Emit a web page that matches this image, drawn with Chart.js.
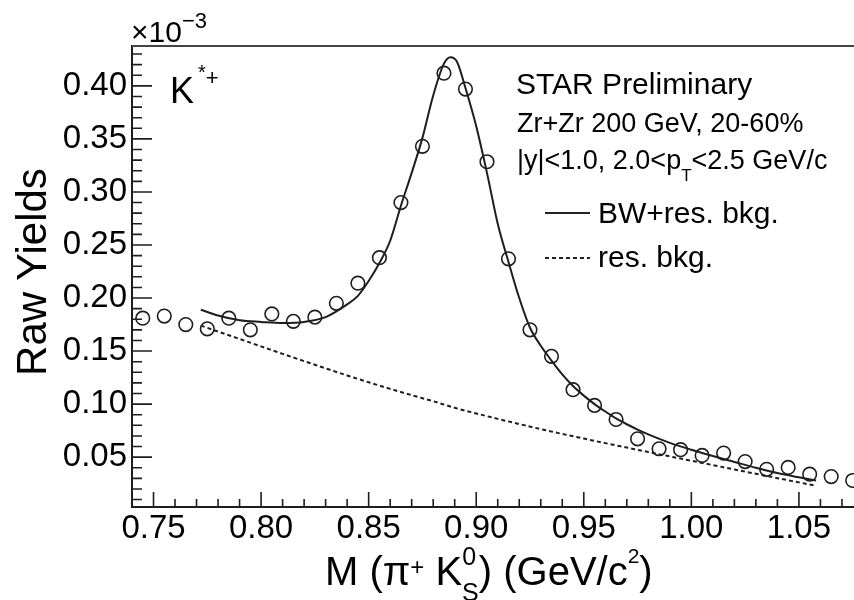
<!DOCTYPE html>
<html><head><meta charset="utf-8">
<script src="https://cdn.jsdelivr.net/npm/chart.js@4.4.1/dist/chart.umd.min.js"></script>
<style>
html,body{margin:0;padding:0;background:#fff;overflow:hidden}
#wrap{position:relative;width:854px;height:600px;font-family:"Liberation Sans",Arial,Helvetica,sans-serif;color:#000}
canvas{position:absolute;left:0;top:0}
.t{position:absolute;white-space:nowrap;line-height:1}
.r{position:relative}
</style></head><body>
<div id="wrap">
<canvas id="c" width="854" height="600"></canvas>
<div class="t" style="left:131px;top:16.6px;font-size:30px">×10<span class="r" style="font-size:22px;top:-13.7px">−3</span></div>
<div class="t" style="left:170px;top:72.5px;font-size:36px">K<span class="r" style="font-size:20px;top:-24px;margin-left:4px">*</span><span class="r" style="font-size:22px;top:-17.5px">+</span></div>
<div class="t" style="left:516px;top:69px;font-size:30px">STAR Preliminary</div>
<div class="t" style="left:517px;top:110px;font-size:27px">Zr+Zr 200 GeV, 20-60%</div>
<div class="t" style="left:517px;top:147px;font-size:27px">|y|&lt;1.0, 2.0&lt;p<span class="r" style="font-size:17px;top:12px">T</span>&lt;2.5 GeV/c</div>
<svg style="position:absolute;left:0;top:0" width="854" height="600">
<line x1="545" y1="213" x2="590" y2="213" stroke="#222" stroke-width="2"/>
<line x1="545" y1="258" x2="590" y2="258" stroke="#222" stroke-width="2" stroke-dasharray="4,3"/>
</svg>
<div class="t" style="left:598px;top:197.5px;font-size:30px">BW+res. bkg.</div>
<div class="t" style="left:598px;top:241.5px;font-size:30px">res. bkg.</div>
<div class="t" style="left:325px;top:551px;font-size:40px">M (π<span class="r" style="font-size:24px;top:-10px">+</span> K<span class="r" style="font-size:25px;top:-20px">0</span><span class="r" style="font-size:25px;top:16px;margin-left:-14px">S</span>) (GeV/c<span class="r" style="font-size:21px;top:-22px">2</span>)</div>
<div class="t" style="left:-117.6px;top:251px;width:300px;height:42px;text-align:center;font-size:42px;transform:rotate(-90deg)">Raw Yields</div>
</div>
<script>
// ---- data ----
const massBins = [0.745,0.755,0.765,0.775,0.785,0.795,0.805,0.815,0.825,0.835,0.845,0.855,0.865,0.875,0.885,0.895,0.905,0.915,0.925,0.935,0.945,0.955,0.965,0.975,0.985,0.995,1.005,1.015,1.025,1.035,1.045,1.055,1.065,1.075];
const rawYields = [0.181,0.183,0.175,0.171,0.181,0.170,0.185,0.178,0.182,0.195,0.214,0.238,0.290,0.343,0.412,0.397,0.3285,0.237,0.170,0.145,0.1136,0.0988,0.0855,0.0673,0.0579,0.057,0.0516,0.0538,0.0458,0.0385,0.0403,0.0339,0.0317,0.028];
const fitMass = [0.772,0.78,0.79,0.80,0.81,0.82,0.83,0.84,0.845,0.85,0.855,0.86,0.865,0.87,0.875,0.88,0.885,0.888,0.891,0.895,0.90,0.905,0.91,0.915,0.92,0.925,0.93,0.935,0.94,0.945,0.95,0.955,0.96,0.965,0.97,0.975,0.98,0.99,1.00,1.01,1.02,1.03,1.04,1.05,1.058];
const fitYield = [0.189,0.1835,0.179,0.1775,0.1765,0.1775,0.182,0.194,0.202,0.216,0.233,0.254,0.287,0.318,0.351,0.391,0.421,0.427,0.423,0.398,0.362,0.318,0.270,0.234,0.200,0.172,0.155,0.141,0.128,0.117,0.108,0.100,0.093,0.0865,0.081,0.076,0.0715,0.0635,0.057,0.051,0.0455,0.040,0.035,0.031,0.028];
const bkgMass = [0.772,0.78,0.79,0.80,0.81,0.82,0.83,0.84,0.85,0.86,0.87,0.88,0.89,0.90,0.91,0.92,0.93,0.94,0.95,0.96,0.97,0.98,0.99,1.00,1.01,1.02,1.03,1.04,1.05,1.058];
const bkgYield = [0.174,0.1684,0.1614,0.1544,0.1474,0.1405,0.1337,0.1270,0.1206,0.1144,0.1084,0.1027,0.0965,0.0912,0.0861,0.0812,0.0764,0.0719,0.0675,0.0632,0.0590,0.0548,0.0507,0.0466,0.0425,0.0384,0.0343,0.0302,0.0262,0.0230];
const xTickValues = [0.75,0.80,0.85,0.90,0.95,1.00,1.05];
const xTickLabels = ["0.75","0.80","0.85","0.90","0.95","1.00","1.05"];
const yTickValues = [0.05,0.10,0.15,0.20,0.25,0.30,0.35,0.40];
const yTickLabels = ["0.05","0.10","0.15","0.20","0.25","0.30","0.35","0.40"];
const xRange = [0.74, 1.0756];
const yRange = [0.003, 0.4376];

const pts = (xs, ys) => xs.map((v, i) => ({x: v, y: ys[i]}));
const FONT = '"Liberation Sans", Arial, Helvetica, sans-serif';
const INK = '#1e1e1e';

const innerTicks = {
  id: 'innerTicks',
  afterDraw(chart) {
    const {ctx, chartArea: a, scales: {x, y}} = chart;
    ctx.save();
    ctx.strokeStyle = INK;
    ctx.lineWidth = 1.6;
    ctx.beginPath();
    for (let k = 74; k <= 107; k++) {
      const p = x.getPixelForValue(k / 100);
      const L = (k % 5 === 0) ? 15 : 8;
      ctx.moveTo(p, a.bottom); ctx.lineTo(p, a.bottom - L);
    }
    for (let k = 1; k <= 43; k++) {
      const p = y.getPixelForValue(k / 100);
      const L = (k % 5 === 0) ? 20 : 10;
      ctx.moveTo(a.left, p); ctx.lineTo(a.left + L, p);
    }
    ctx.stroke();
    ctx.strokeStyle = '#444';
    ctx.lineWidth = 2;
    ctx.beginPath();
    ctx.moveTo(a.left, a.top); ctx.lineTo(chart.width, a.top);
    ctx.stroke();
    ctx.restore();
  }
};

new Chart(document.getElementById('c'), {
  type: 'scatter',
  data: {
    datasets: [
      {label: 'res. bkg.', data: pts(bkgMass, bkgYield), showLine: true, borderColor: INK, borderWidth: 2, borderDash: [4, 3], pointRadius: 0, cubicInterpolationMode: 'monotone'},
      {label: 'BW+res. bkg.', data: pts(fitMass, fitYield), showLine: true, borderColor: INK, borderWidth: 2, pointRadius: 0, cubicInterpolationMode: 'monotone'},
      {label: 'data', data: pts(massBins, rawYields), showLine: false, pointStyle: 'circle', pointRadius: 6.8, pointBorderWidth: 1.6, pointBorderColor: INK, pointBackgroundColor: 'rgba(0,0,0,0)', borderColor: INK, backgroundColor: 'rgba(0,0,0,0)'}
    ]
  },
  options: {
    responsive: false,
    animation: false,
    layout: {autoPadding: false, padding: {top: 46, right: 0, left: 0, bottom: 0}},
    plugins: {legend: {display: false}, tooltip: {enabled: false}},
    scales: {
      x: {
        type: 'linear', min: xRange[0], max: xRange[1],
        grid: {display: false, drawTicks: false},
        border: {display: true, color: INK, width: 2},
        afterBuildTicks: s => { s.ticks = xTickValues.map(v => ({value: v})); },
        afterFit: s => { s.height = 93; s.paddingLeft = 0; s.paddingRight = 0; },
        ticks: {font: {family: FONT, size: 33}, color: '#000', padding: 2, maxRotation: 0, autoSkip: false,
                callback: (v, i) => xTickLabels[i]}
      },
      y: {
        type: 'linear', min: yRange[0], max: yRange[1],
        grid: {display: false, drawTicks: false},
        border: {display: true, color: INK, width: 2},
        afterBuildTicks: s => { s.ticks = yTickValues.map(v => ({value: v})); },
        afterFit: s => { s.width = 132; s.paddingTop = 0; s.paddingBottom = 0; },
        ticks: {font: {family: FONT, size: 33}, color: '#000', padding: 5, autoSkip: false,
                callback: (v, i) => yTickLabels[i]}
      }
    }
  },
  plugins: [innerTicks]
});
</script>
</body></html>
